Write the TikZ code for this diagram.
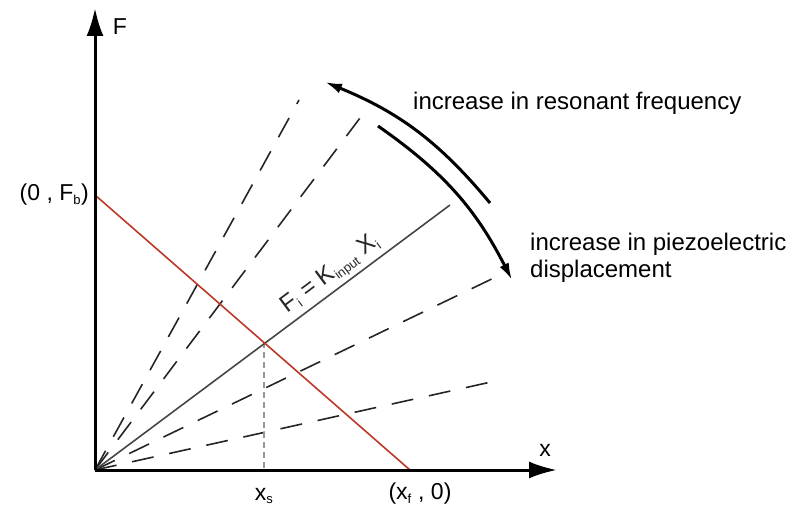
\documentclass[tikz,border=0pt]{standalone}
\usepackage{fontspec}
\setmainfont{Liberation Sans}
\usetikzlibrary{arrows.meta}
\definecolor{redline}{RGB}{190,55,40}
\definecolor{solidgray}{RGB}{70,70,70}
\definecolor{vgray}{RGB}{150,150,150}
\newcommand{\sbs}[1]{\textsubscript{\fontsize{13}{14}\selectfont #1}}
\begin{document}
\begin{tikzpicture}[x=1pt,y=-1pt,
  axis/.style={line width=3pt,-{Latex[length=28pt,width=17pt]}},
  ray/.style={line width=1.6pt,dash pattern=on 22pt off 16pt,black!85},
  bigarrow/.style={line width=3pt,-{Latex[length=17pt,width=10pt]}},
  lbl/.style={inner sep=1pt,font=\fontsize{23}{26}\selectfont},
  txt/.style={inner sep=0pt,font=\fontsize{24}{26}\selectfont,align=left}]
\useasboundingbox (0,0) rectangle (797,510);
% key points
\coordinate (O) at (95,470);
\coordinate (Ytop) at (95,8);
\coordinate (Xend) at (557,470);
\coordinate (Fb) at (95,195);
\coordinate (Xf) at (410,470);
\coordinate (S) at (450,205);
\coordinate (Xs) at (264,342);
\coordinate (XsB) at (264,470);
\coordinate (R1) at (299,100);
\coordinate (R2) at (360,118);
\coordinate (R3) at (500,275);
\coordinate (R4) at (500,380);
\coordinate (A1s) at (490,203);
\coordinate (A1e) at (325,82);
\coordinate (A2s) at (378,126);
\coordinate (A2e) at (512,280);
% dashed rays
\draw[ray] (O) -- (R1);
\draw[ray] (O) -- (R2);
\draw[ray] (O) -- (R3);
\draw[ray] (O) -- (R4);
% vertical dashed
\draw[vgray,line width=1.2pt,dash pattern=on 6pt off 4pt] (Xs) -- (XsB);
% solid line with formula
\draw[solidgray,line width=1.6pt] (O) -- (S)
  node[pos=0.69,sloped,above,inner sep=3pt,font=\fontsize{24}{26}\selectfont,text=black!85]
  (form) {F\sbs{i} = K\sbs{input} X\sbs{i}};
% red line
\draw[redline,line width=1.6pt] (Fb) -- (Xf);
% axes
\draw[axis] (O) -- (Ytop);
\draw[axis] (O) -- (Xend);
% curved arrows
\draw[bigarrow] (A1s) to[bend right=14] (A1e);
\draw[bigarrow] (A2s) to[bend left=14] (A2e);
% labels
\node[lbl] (lF) at (120,27) {F};
\node[lbl] (lx) at (545,450) {x};
\node[lbl,anchor=east] (lFb) at (90,195) {(0 , F\sbs{b})};
\node[lbl] (lxs) at (264,496) {x\sbs{s}};
\node[lbl] (lxf) at (420,494) {(x\sbs{f} , 0)};
\node[txt,anchor=west] (t1) at (413,103) {increase in resonant frequency};
\node[txt,anchor=north west] (t2) at (530,233) {increase in piezoelectric\\[1pt]displacement};
\end{tikzpicture}
\end{document}
